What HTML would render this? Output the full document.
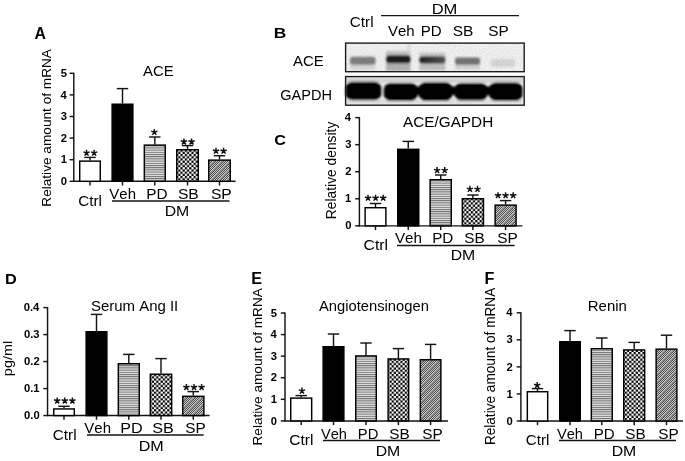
<!DOCTYPE html>
<html><head><meta charset="utf-8"><style>
html,body{margin:0;padding:0;background:#fff;}
svg{display:block;filter:blur(0.3px);}
text{font-family:"Liberation Sans", sans-serif;font-kerning:none;}
</style></head><body>
<svg width="685" height="461" viewBox="0 0 685 461">
<defs>
<pattern id="pd" patternUnits="userSpaceOnUse" width="4" height="2.2"><rect width="4" height="2.2" fill="#e2e2e2"/><rect width="4" height="1" fill="#6e6e6e"/></pattern>
<pattern id="sb" patternUnits="userSpaceOnUse" width="4.4" height="4.4"><rect width="4.4" height="4.4" fill="#fff"/><rect width="2.2" height="2.2" fill="#000"/><rect x="2.2" y="2.2" width="2.2" height="2.2" fill="#000"/></pattern>
<pattern id="sp" patternUnits="userSpaceOnUse" width="8" height="8"><rect x="0" y="0" width="1" height="1" fill="#4a4a4a"/><rect x="1" y="0" width="1" height="1" fill="#cccccc"/><rect x="2" y="0" width="1" height="1" fill="#4a4a4a"/><rect x="3" y="0" width="1" height="1" fill="#cccccc"/><rect x="4" y="0" width="1" height="1" fill="#4a4a4a"/><rect x="5" y="0" width="1" height="1" fill="#cccccc"/><rect x="6" y="0" width="1" height="1" fill="#929292"/><rect x="7" y="0" width="1" height="1" fill="#8e8e8e"/><rect x="0" y="1" width="1" height="1" fill="#cccccc"/><rect x="1" y="1" width="1" height="1" fill="#4a4a4a"/><rect x="2" y="1" width="1" height="1" fill="#cccccc"/><rect x="3" y="1" width="1" height="1" fill="#4a4a4a"/><rect x="4" y="1" width="1" height="1" fill="#cccccc"/><rect x="5" y="1" width="1" height="1" fill="#929292"/><rect x="6" y="1" width="1" height="1" fill="#8e8e8e"/><rect x="7" y="1" width="1" height="1" fill="#4a4a4a"/><rect x="0" y="2" width="1" height="1" fill="#4a4a4a"/><rect x="1" y="2" width="1" height="1" fill="#cccccc"/><rect x="2" y="2" width="1" height="1" fill="#4a4a4a"/><rect x="3" y="2" width="1" height="1" fill="#cccccc"/><rect x="4" y="2" width="1" height="1" fill="#929292"/><rect x="5" y="2" width="1" height="1" fill="#8e8e8e"/><rect x="6" y="2" width="1" height="1" fill="#4a4a4a"/><rect x="7" y="2" width="1" height="1" fill="#cccccc"/><rect x="0" y="3" width="1" height="1" fill="#cccccc"/><rect x="1" y="3" width="1" height="1" fill="#4a4a4a"/><rect x="2" y="3" width="1" height="1" fill="#cccccc"/><rect x="3" y="3" width="1" height="1" fill="#929292"/><rect x="4" y="3" width="1" height="1" fill="#8e8e8e"/><rect x="5" y="3" width="1" height="1" fill="#4a4a4a"/><rect x="6" y="3" width="1" height="1" fill="#cccccc"/><rect x="7" y="3" width="1" height="1" fill="#4a4a4a"/><rect x="0" y="4" width="1" height="1" fill="#4a4a4a"/><rect x="1" y="4" width="1" height="1" fill="#cccccc"/><rect x="2" y="4" width="1" height="1" fill="#929292"/><rect x="3" y="4" width="1" height="1" fill="#8e8e8e"/><rect x="4" y="4" width="1" height="1" fill="#4a4a4a"/><rect x="5" y="4" width="1" height="1" fill="#cccccc"/><rect x="6" y="4" width="1" height="1" fill="#4a4a4a"/><rect x="7" y="4" width="1" height="1" fill="#cccccc"/><rect x="0" y="5" width="1" height="1" fill="#cccccc"/><rect x="1" y="5" width="1" height="1" fill="#929292"/><rect x="2" y="5" width="1" height="1" fill="#8e8e8e"/><rect x="3" y="5" width="1" height="1" fill="#4a4a4a"/><rect x="4" y="5" width="1" height="1" fill="#cccccc"/><rect x="5" y="5" width="1" height="1" fill="#4a4a4a"/><rect x="6" y="5" width="1" height="1" fill="#cccccc"/><rect x="7" y="5" width="1" height="1" fill="#4a4a4a"/><rect x="0" y="6" width="1" height="1" fill="#929292"/><rect x="1" y="6" width="1" height="1" fill="#8e8e8e"/><rect x="2" y="6" width="1" height="1" fill="#4a4a4a"/><rect x="3" y="6" width="1" height="1" fill="#cccccc"/><rect x="4" y="6" width="1" height="1" fill="#4a4a4a"/><rect x="5" y="6" width="1" height="1" fill="#cccccc"/><rect x="6" y="6" width="1" height="1" fill="#4a4a4a"/><rect x="7" y="6" width="1" height="1" fill="#cccccc"/><rect x="0" y="7" width="1" height="1" fill="#8e8e8e"/><rect x="1" y="7" width="1" height="1" fill="#4a4a4a"/><rect x="2" y="7" width="1" height="1" fill="#cccccc"/><rect x="3" y="7" width="1" height="1" fill="#4a4a4a"/><rect x="4" y="7" width="1" height="1" fill="#cccccc"/><rect x="5" y="7" width="1" height="1" fill="#4a4a4a"/><rect x="6" y="7" width="1" height="1" fill="#cccccc"/><rect x="7" y="7" width="1" height="1" fill="#929292"/></pattern>
<linearGradient id="pdg" x1="0" x2="1" y1="0" y2="0"><stop offset="0" stop-color="#222"/><stop offset="1" stop-color="#555"/></linearGradient>
<filter id="noise" x="0" y="0" width="100%" height="100%"><feTurbulence type="fractalNoise" baseFrequency="0.9" numOctaves="1" seed="3"/><feColorMatrix type="matrix" values="0 0 0 0 0  0 0 0 0 0  0 0 0 0 0  1.6 0 0 0 -0.5"/><feComposite in2="SourceGraphic" operator="in"/></filter>
<filter id="bl1" x="-20%" y="-50%" width="140%" height="200%"><feGaussianBlur stdDeviation="1.25"/></filter>
<filter id="bl2" x="-10%" y="-50%" width="120%" height="200%"><feGaussianBlur stdDeviation="0.9"/></filter>
</defs>
<rect width="685" height="461" fill="#fff"/>

<g>
<rect x="345.6" y="43.1" width="178.6" height="28.6" fill="#f4f4f4"/>
<g filter="url(#bl1)">
 <rect x="350" y="63.5" width="25.5" height="6.5" fill="#dcdcdc"/>
 <rect x="350" y="56.8" width="25.5" height="8" rx="2.5" fill="#808080"/>
 <rect x="386" y="51" width="24.5" height="5.5" fill="#c4c4c4"/>
 <rect x="386" y="62" width="24.5" height="9" fill="#b4b4b4"/>
 <rect x="386.2" y="55.2" width="24.2" height="8" rx="2.5" fill="#1c1c1c"/>
 <rect x="407.5" y="43" width="2.2" height="12" fill="#d8d8d8"/>
 <rect x="419.4" y="52.5" width="26" height="5" fill="#cccccc"/>
 <rect x="419.4" y="62.5" width="26" height="8" fill="#c4c4c4"/>
 <rect x="419.4" y="56.3" width="26" height="7.2" rx="2.5" fill="url(#pdg)"/>
 <rect x="455" y="64" width="25" height="5.5" fill="#d6d6d6"/>
 <rect x="455" y="57.5" width="25" height="7.3" rx="2.5" fill="#747474"/>
 <rect x="490.5" y="59" width="24.5" height="8" rx="2.5" fill="#dadada"/>
</g>
<rect x="345.6" y="43.1" width="178.6" height="28.6" fill="#000" filter="url(#noise)" opacity="0.10"/>
<rect x="345.6" y="43.1" width="178.6" height="28.6" fill="none" stroke="#1c1c1c" stroke-width="1.4"/>
<rect x="345.6" y="76.6" width="178.6" height="28.6" fill="#ededed"/>
<g filter="url(#bl2)">
 <rect x="346" y="78.5" width="177" height="4" fill="#d6d6d6"/>
 <rect x="346" y="99.5" width="177" height="4" fill="#e2e2e2"/>
 <rect x="385" y="86.5" width="137" height="8.5" fill="#000"/>
 <rect x="345.5" y="81.8" width="35.8" height="18.4" rx="6.5" fill="#000"/>
 <rect x="383.8" y="83" width="33.8" height="18" rx="6.5" fill="#000"/>
 <rect x="418.8" y="82.3" width="33.5" height="18.6" rx="6.5" fill="#000"/>
 <rect x="454.5" y="83" width="33" height="17.6" rx="6.5" fill="#000"/>
 <rect x="489" y="82.6" width="33.5" height="18.3" rx="6.5" fill="#000"/>
</g>
<rect x="345.6" y="76.6" width="178.6" height="28.6" fill="#000" filter="url(#noise)" opacity="0.08"/>
<rect x="345.6" y="76.6" width="178.6" height="28.6" fill="none" stroke="#1c1c1c" stroke-width="1.4"/>
</g>

<text transform="matrix(0.9875,0,0,1,34.61,39.00)" font-size="16.00" font-weight="bold" fill="#000">A</text>
<text transform="matrix(1.0504,0,0,1,142.97,75.60)" font-size="14.20" fill="#000">ACE</text>
<text transform="matrix(0,-1,0.9608,0,51.00,206.72)" font-size="13.65">Relative amount of mRNA</text>
<line x1="73.80" y1="72.80" x2="73.80" y2="181.90" stroke="#141414" stroke-width="1.45"/>
<line x1="73.20" y1="181.30" x2="235.60" y2="181.30" stroke="#141414" stroke-width="1.45"/>
<line x1="69.60" y1="181.30" x2="73.80" y2="181.30" stroke="#141414" stroke-width="1.45"/>
<text transform="matrix(1.0700,0,0,1,60.81,184.90)" font-size="10.50" font-weight="bold" fill="#000">0</text>
<line x1="69.60" y1="159.70" x2="73.80" y2="159.70" stroke="#141414" stroke-width="1.45"/>
<text transform="matrix(1.0700,0,0,1,60.66,163.30)" font-size="10.50" font-weight="bold" fill="#000">1</text>
<line x1="69.60" y1="138.10" x2="73.80" y2="138.10" stroke="#141414" stroke-width="1.45"/>
<text transform="matrix(1.0700,0,0,1,60.80,141.70)" font-size="10.50" font-weight="bold" fill="#000">2</text>
<line x1="69.60" y1="116.50" x2="73.80" y2="116.50" stroke="#141414" stroke-width="1.45"/>
<text transform="matrix(1.0700,0,0,1,60.76,120.10)" font-size="10.50" font-weight="bold" fill="#000">3</text>
<line x1="69.60" y1="94.90" x2="73.80" y2="94.90" stroke="#141414" stroke-width="1.45"/>
<text transform="matrix(1.0700,0,0,1,60.41,98.50)" font-size="10.50" font-weight="bold" fill="#000">4</text>
<line x1="69.60" y1="73.30" x2="73.80" y2="73.30" stroke="#141414" stroke-width="1.45"/>
<text transform="matrix(1.0700,0,0,1,60.66,76.90)" font-size="10.50" font-weight="bold" fill="#000">5</text>
<line x1="90.00" y1="181.30" x2="90.00" y2="185.50" stroke="#141414" stroke-width="1.45"/>
<line x1="90.00" y1="160.40" x2="90.00" y2="157.40" stroke="#141414" stroke-width="1.45"/>
<line x1="84.30" y1="157.40" x2="95.70" y2="157.40" stroke="#141414" stroke-width="1.45"/>
<rect x="79.72" y="161.12" width="20.55" height="20.18" fill="#fff" stroke="#000" stroke-width="1.45"/>
<line x1="122.50" y1="181.30" x2="122.50" y2="185.50" stroke="#141414" stroke-width="1.45"/>
<line x1="122.50" y1="103.50" x2="122.50" y2="88.60" stroke="#141414" stroke-width="1.45"/>
<line x1="116.80" y1="88.60" x2="128.20" y2="88.60" stroke="#141414" stroke-width="1.45"/>
<rect x="112.12" y="104.22" width="20.75" height="77.08" fill="#000" stroke="#000" stroke-width="1.45"/>
<line x1="154.80" y1="181.30" x2="154.80" y2="185.50" stroke="#141414" stroke-width="1.45"/>
<line x1="154.80" y1="144.40" x2="154.80" y2="137.00" stroke="#141414" stroke-width="1.45"/>
<line x1="149.10" y1="137.00" x2="160.50" y2="137.00" stroke="#141414" stroke-width="1.45"/>
<rect x="144.32" y="145.12" width="20.95" height="36.18" fill="url(#pd)" stroke="#000" stroke-width="1.45"/>
<line x1="187.50" y1="181.30" x2="187.50" y2="185.50" stroke="#141414" stroke-width="1.45"/>
<line x1="187.50" y1="149.00" x2="187.50" y2="145.60" stroke="#141414" stroke-width="1.45"/>
<line x1="181.80" y1="145.60" x2="193.20" y2="145.60" stroke="#141414" stroke-width="1.45"/>
<rect x="176.72" y="149.72" width="21.55" height="31.58" fill="url(#sb)" stroke="#000" stroke-width="1.45"/>
<line x1="219.50" y1="181.30" x2="219.50" y2="185.50" stroke="#141414" stroke-width="1.45"/>
<line x1="219.50" y1="159.40" x2="219.50" y2="155.70" stroke="#141414" stroke-width="1.45"/>
<line x1="213.80" y1="155.70" x2="225.20" y2="155.70" stroke="#141414" stroke-width="1.45"/>
<rect x="208.72" y="160.12" width="21.55" height="21.18" fill="url(#sp)" stroke="#000" stroke-width="1.45"/>
<text transform="matrix(1.0778,0,0,1,78.22,205.60)" font-size="14.20" fill="#000">Ctrl</text>
<text transform="matrix(1.0543,0,0,1,109.33,199.00)" font-size="14.20" fill="#000">Veh</text>
<text transform="matrix(1.0849,0,0,1,146.34,199.00)" font-size="14.20" fill="#000">PD</text>
<text transform="matrix(1.1055,0,0,1,177.89,199.00)" font-size="14.20" fill="#000">SB</text>
<text transform="matrix(1.1055,0,0,1,210.89,199.00)" font-size="14.20" fill="#000">SP</text>
<line x1="112.00" y1="201.00" x2="229.50" y2="201.00" stroke="#141414" stroke-width="1.45"/>
<text transform="matrix(1.1137,0,0,1,164.70,216.00)" font-size="14.20" fill="#000">DM</text>
<path d="M86.55,152.95L86.55,149.65M86.55,152.95L89.69,151.93M86.55,152.95L88.49,155.62M86.55,152.95L84.61,155.62M86.55,152.95L83.41,151.93" stroke="#111" stroke-width="1.45" fill="none"/>
<path d="M94.15,152.95L94.15,149.65M94.15,152.95L97.29,151.93M94.15,152.95L96.09,155.62M94.15,152.95L92.21,155.62M94.15,152.95L91.01,151.93" stroke="#111" stroke-width="1.45" fill="none"/>
<path d="M154.35,132.20L154.35,128.90M154.35,132.20L157.49,131.18M154.35,132.20L156.29,134.87M154.35,132.20L152.41,134.87M154.35,132.20L151.21,131.18" stroke="#111" stroke-width="1.45" fill="none"/>
<path d="M183.95,141.80L183.95,138.50M183.95,141.80L187.09,140.78M183.95,141.80L185.89,144.47M183.95,141.80L182.01,144.47M183.95,141.80L180.81,140.78" stroke="#111" stroke-width="1.45" fill="none"/>
<path d="M191.55,141.80L191.55,138.50M191.55,141.80L194.69,140.78M191.55,141.80L193.49,144.47M191.55,141.80L189.61,144.47M191.55,141.80L188.41,140.78" stroke="#111" stroke-width="1.45" fill="none"/>
<path d="M216.00,151.00L216.00,147.70M216.00,151.00L219.14,149.98M216.00,151.00L217.94,153.67M216.00,151.00L214.06,153.67M216.00,151.00L212.86,149.98" stroke="#111" stroke-width="1.45" fill="none"/>
<path d="M223.60,151.00L223.60,147.70M223.60,151.00L226.74,149.98M223.60,151.00L225.54,153.67M223.60,151.00L221.66,153.67M223.60,151.00L220.46,149.98" stroke="#111" stroke-width="1.45" fill="none"/>
<text transform="matrix(1.1435,0,0,1,273.84,38.40)" font-size="15.20" font-weight="bold" fill="#000">B</text>
<text transform="matrix(1.0778,0,0,1,349.82,27.40)" font-size="14.20" fill="#000">Ctrl</text>
<line x1="381.00" y1="15.60" x2="519.00" y2="15.60" stroke="#141414" stroke-width="1.45"/>
<text transform="matrix(1.1643,0,0,1,431.64,14.00)" font-size="14.20" fill="#000">DM</text>
<text transform="matrix(1.0543,0,0,1,387.93,35.60)" font-size="14.20" fill="#000">Veh</text>
<text transform="matrix(1.0625,0,0,1,420.76,35.60)" font-size="14.20" fill="#000">PD</text>
<text transform="matrix(1.0941,0,0,1,452.69,35.60)" font-size="14.20" fill="#000">SB</text>
<text transform="matrix(1.0827,0,0,1,488.30,35.60)" font-size="14.20" fill="#000">SP</text>
<text transform="matrix(1.0504,0,0,1,292.97,66.00)" font-size="14.20" fill="#000">ACE</text>
<text transform="matrix(1.0283,0,0,1,280.27,100.00)" font-size="14.20" fill="#000">GAPDH</text>
<text transform="matrix(1.0666,0,0,1,274.34,145.00)" font-size="15.20" font-weight="bold" fill="#000">C</text>
<text transform="matrix(1.0794,0,0,1,402.97,127.00)" font-size="14.20" fill="#000">ACE/GAPDH</text>
<text transform="matrix(0,-1,0.9996,0,335.50,219.13)" font-size="13.81">Relative density</text>
<line x1="359.40" y1="117.10" x2="359.40" y2="226.45" stroke="#141414" stroke-width="1.45"/>
<line x1="358.80" y1="225.85" x2="522.40" y2="225.85" stroke="#141414" stroke-width="1.45"/>
<line x1="355.20" y1="225.85" x2="359.40" y2="225.85" stroke="#141414" stroke-width="1.45"/>
<text transform="matrix(1.0700,0,0,1,345.21,229.45)" font-size="10.50" font-weight="bold" fill="#000">0</text>
<line x1="355.20" y1="198.79" x2="359.40" y2="198.79" stroke="#141414" stroke-width="1.45"/>
<text transform="matrix(1.0700,0,0,1,345.06,202.39)" font-size="10.50" font-weight="bold" fill="#000">1</text>
<line x1="355.20" y1="171.72" x2="359.40" y2="171.72" stroke="#141414" stroke-width="1.45"/>
<text transform="matrix(1.0700,0,0,1,345.20,175.32)" font-size="10.50" font-weight="bold" fill="#000">2</text>
<line x1="355.20" y1="144.66" x2="359.40" y2="144.66" stroke="#141414" stroke-width="1.45"/>
<text transform="matrix(1.0700,0,0,1,345.16,148.26)" font-size="10.50" font-weight="bold" fill="#000">3</text>
<line x1="355.20" y1="117.60" x2="359.40" y2="117.60" stroke="#141414" stroke-width="1.45"/>
<text transform="matrix(1.0700,0,0,1,344.81,121.20)" font-size="10.50" font-weight="bold" fill="#000">4</text>
<line x1="375.50" y1="225.85" x2="375.50" y2="230.05" stroke="#141414" stroke-width="1.45"/>
<line x1="375.50" y1="207.00" x2="375.50" y2="203.50" stroke="#141414" stroke-width="1.45"/>
<line x1="369.80" y1="203.50" x2="381.20" y2="203.50" stroke="#141414" stroke-width="1.45"/>
<rect x="365.12" y="207.72" width="20.75" height="18.12" fill="#fff" stroke="#000" stroke-width="1.45"/>
<line x1="408.25" y1="225.85" x2="408.25" y2="230.05" stroke="#141414" stroke-width="1.45"/>
<line x1="408.25" y1="148.60" x2="408.25" y2="141.40" stroke="#141414" stroke-width="1.45"/>
<line x1="402.55" y1="141.40" x2="413.95" y2="141.40" stroke="#141414" stroke-width="1.45"/>
<rect x="397.73" y="149.32" width="21.05" height="76.53" fill="#000" stroke="#000" stroke-width="1.45"/>
<line x1="440.70" y1="225.85" x2="440.70" y2="230.05" stroke="#141414" stroke-width="1.45"/>
<line x1="440.70" y1="179.00" x2="440.70" y2="175.00" stroke="#141414" stroke-width="1.45"/>
<line x1="435.00" y1="175.00" x2="446.40" y2="175.00" stroke="#141414" stroke-width="1.45"/>
<rect x="430.12" y="179.72" width="21.15" height="46.12" fill="url(#pd)" stroke="#000" stroke-width="1.45"/>
<line x1="472.90" y1="225.85" x2="472.90" y2="230.05" stroke="#141414" stroke-width="1.45"/>
<line x1="472.90" y1="198.00" x2="472.90" y2="195.00" stroke="#141414" stroke-width="1.45"/>
<line x1="467.20" y1="195.00" x2="478.60" y2="195.00" stroke="#141414" stroke-width="1.45"/>
<rect x="462.33" y="198.72" width="21.15" height="27.12" fill="url(#sb)" stroke="#000" stroke-width="1.45"/>
<line x1="505.60" y1="225.85" x2="505.60" y2="230.05" stroke="#141414" stroke-width="1.45"/>
<line x1="505.60" y1="204.40" x2="505.60" y2="200.60" stroke="#141414" stroke-width="1.45"/>
<line x1="499.90" y1="200.60" x2="511.30" y2="200.60" stroke="#141414" stroke-width="1.45"/>
<rect x="495.12" y="205.12" width="20.95" height="20.72" fill="url(#sp)" stroke="#000" stroke-width="1.45"/>
<text transform="matrix(1.1072,0,0,1,363.60,250.00)" font-size="14.20" fill="#000">Ctrl</text>
<text transform="matrix(1.0708,0,0,1,394.93,243.00)" font-size="14.20" fill="#000">Veh</text>
<text transform="matrix(1.0737,0,0,1,432.15,243.00)" font-size="14.20" fill="#000">PD</text>
<text transform="matrix(1.0827,0,0,1,464.30,243.00)" font-size="14.20" fill="#000">SB</text>
<text transform="matrix(1.0827,0,0,1,497.30,243.00)" font-size="14.20" fill="#000">SP</text>
<line x1="397.00" y1="245.40" x2="514.60" y2="245.40" stroke="#141414" stroke-width="1.45"/>
<text transform="matrix(1.1137,0,0,1,450.70,260.00)" font-size="14.20" fill="#000">DM</text>
<path d="M368.00,198.00L368.00,194.70M368.00,198.00L371.14,196.98M368.00,198.00L369.94,200.67M368.00,198.00L366.06,200.67M368.00,198.00L364.86,196.98" stroke="#111" stroke-width="1.45" fill="none"/>
<path d="M375.60,198.00L375.60,194.70M375.60,198.00L378.74,196.98M375.60,198.00L377.54,200.67M375.60,198.00L373.66,200.67M375.60,198.00L372.46,196.98" stroke="#111" stroke-width="1.45" fill="none"/>
<path d="M383.20,198.00L383.20,194.70M383.20,198.00L386.34,196.98M383.20,198.00L385.14,200.67M383.20,198.00L381.26,200.67M383.20,198.00L380.06,196.98" stroke="#111" stroke-width="1.45" fill="none"/>
<path d="M437.10,170.40L437.10,167.10M437.10,170.40L440.24,169.38M437.10,170.40L439.04,173.07M437.10,170.40L435.16,173.07M437.10,170.40L433.96,169.38" stroke="#111" stroke-width="1.45" fill="none"/>
<path d="M444.70,170.40L444.70,167.10M444.70,170.40L447.84,169.38M444.70,170.40L446.64,173.07M444.70,170.40L442.76,173.07M444.70,170.40L441.56,169.38" stroke="#111" stroke-width="1.45" fill="none"/>
<path d="M469.90,189.10L469.90,185.80M469.90,189.10L473.04,188.08M469.90,189.10L471.84,191.77M469.90,189.10L467.96,191.77M469.90,189.10L466.76,188.08" stroke="#111" stroke-width="1.45" fill="none"/>
<path d="M477.50,189.10L477.50,185.80M477.50,189.10L480.64,188.08M477.50,189.10L479.44,191.77M477.50,189.10L475.56,191.77M477.50,189.10L474.36,188.08" stroke="#111" stroke-width="1.45" fill="none"/>
<path d="M498.00,195.50L498.00,192.20M498.00,195.50L501.14,194.48M498.00,195.50L499.94,198.17M498.00,195.50L496.06,198.17M498.00,195.50L494.86,194.48" stroke="#111" stroke-width="1.45" fill="none"/>
<path d="M505.60,195.50L505.60,192.20M505.60,195.50L508.74,194.48M505.60,195.50L507.54,198.17M505.60,195.50L503.66,198.17M505.60,195.50L502.46,194.48" stroke="#111" stroke-width="1.45" fill="none"/>
<path d="M513.20,195.50L513.20,192.20M513.20,195.50L516.34,194.48M513.20,195.50L515.14,198.17M513.20,195.50L511.26,198.17M513.20,195.50L510.06,194.48" stroke="#111" stroke-width="1.45" fill="none"/>
<text transform="matrix(1.0727,0,0,1,4.91,284.00)" font-size="15.20" font-weight="bold" fill="#000">D</text>
<text transform="matrix(1.0554,0,0,1,90.92,310.50)" font-size="14.20" fill="#000">Serum Ang II</text>
<text transform="matrix(0,-1,0.8796,0,11.60,376.13)" font-size="14.43">pg/ml</text>
<line x1="47.55" y1="307.10" x2="47.55" y2="416.15" stroke="#141414" stroke-width="1.45"/>
<line x1="46.95" y1="415.55" x2="209.60" y2="415.55" stroke="#141414" stroke-width="1.45"/>
<line x1="43.35" y1="415.55" x2="47.55" y2="415.55" stroke="#141414" stroke-width="1.45"/>
<text transform="matrix(1.0700,0,0,1,24.04,419.15)" font-size="10.50" font-weight="bold" fill="#000">0.0</text>
<line x1="43.35" y1="388.56" x2="47.55" y2="388.56" stroke="#141414" stroke-width="1.45"/>
<text transform="matrix(1.0700,0,0,1,23.89,392.16)" font-size="10.50" font-weight="bold" fill="#000">0.1</text>
<line x1="43.35" y1="361.58" x2="47.55" y2="361.58" stroke="#141414" stroke-width="1.45"/>
<text transform="matrix(1.0700,0,0,1,24.03,365.18)" font-size="10.50" font-weight="bold" fill="#000">0.2</text>
<line x1="43.35" y1="334.59" x2="47.55" y2="334.59" stroke="#141414" stroke-width="1.45"/>
<text transform="matrix(1.0700,0,0,1,23.99,338.19)" font-size="10.50" font-weight="bold" fill="#000">0.3</text>
<line x1="43.35" y1="307.60" x2="47.55" y2="307.60" stroke="#141414" stroke-width="1.45"/>
<text transform="matrix(1.0700,0,0,1,23.64,311.20)" font-size="10.50" font-weight="bold" fill="#000">0.4</text>
<line x1="64.00" y1="415.55" x2="64.00" y2="419.75" stroke="#141414" stroke-width="1.45"/>
<line x1="64.00" y1="408.20" x2="64.00" y2="406.30" stroke="#141414" stroke-width="1.45"/>
<line x1="58.30" y1="406.30" x2="69.70" y2="406.30" stroke="#141414" stroke-width="1.45"/>
<rect x="53.73" y="408.93" width="20.55" height="6.63" fill="#fff" stroke="#000" stroke-width="1.45"/>
<line x1="96.50" y1="415.55" x2="96.50" y2="419.75" stroke="#141414" stroke-width="1.45"/>
<line x1="96.50" y1="331.00" x2="96.50" y2="314.40" stroke="#141414" stroke-width="1.45"/>
<line x1="90.80" y1="314.40" x2="102.20" y2="314.40" stroke="#141414" stroke-width="1.45"/>
<rect x="86.12" y="331.73" width="20.75" height="83.83" fill="#000" stroke="#000" stroke-width="1.45"/>
<line x1="128.80" y1="415.55" x2="128.80" y2="419.75" stroke="#141414" stroke-width="1.45"/>
<line x1="128.80" y1="363.00" x2="128.80" y2="354.40" stroke="#141414" stroke-width="1.45"/>
<line x1="123.10" y1="354.40" x2="134.50" y2="354.40" stroke="#141414" stroke-width="1.45"/>
<rect x="118.32" y="363.73" width="20.95" height="51.83" fill="url(#pd)" stroke="#000" stroke-width="1.45"/>
<line x1="161.00" y1="415.55" x2="161.00" y2="419.75" stroke="#141414" stroke-width="1.45"/>
<line x1="161.00" y1="373.50" x2="161.00" y2="358.60" stroke="#141414" stroke-width="1.45"/>
<line x1="155.30" y1="358.60" x2="166.70" y2="358.60" stroke="#141414" stroke-width="1.45"/>
<rect x="150.32" y="374.23" width="21.35" height="41.33" fill="url(#sb)" stroke="#000" stroke-width="1.45"/>
<line x1="193.30" y1="415.55" x2="193.30" y2="419.75" stroke="#141414" stroke-width="1.45"/>
<line x1="193.30" y1="395.60" x2="193.30" y2="391.60" stroke="#141414" stroke-width="1.45"/>
<line x1="187.60" y1="391.60" x2="199.00" y2="391.60" stroke="#141414" stroke-width="1.45"/>
<rect x="182.72" y="396.33" width="21.15" height="19.22" fill="url(#sp)" stroke="#000" stroke-width="1.45"/>
<text transform="matrix(1.0778,0,0,1,52.82,440.40)" font-size="14.20" fill="#000">Ctrl</text>
<text transform="matrix(1.0543,0,0,1,84.33,433.00)" font-size="14.20" fill="#000">Veh</text>
<text transform="matrix(1.1408,0,0,1,120.27,433.00)" font-size="14.20" fill="#000">PD</text>
<text transform="matrix(1.1397,0,0,1,152.27,433.00)" font-size="14.20" fill="#000">SB</text>
<text transform="matrix(1.0827,0,0,1,185.30,433.00)" font-size="14.20" fill="#000">SP</text>
<line x1="87.00" y1="435.00" x2="203.60" y2="435.00" stroke="#141414" stroke-width="1.45"/>
<text transform="matrix(1.1340,0,0,1,138.68,450.60)" font-size="14.20" fill="#000">DM</text>
<path d="M57.20,400.80L57.20,397.50M57.20,400.80L60.34,399.78M57.20,400.80L59.14,403.47M57.20,400.80L55.26,403.47M57.20,400.80L54.06,399.78" stroke="#111" stroke-width="1.45" fill="none"/>
<path d="M64.80,400.80L64.80,397.50M64.80,400.80L67.94,399.78M64.80,400.80L66.74,403.47M64.80,400.80L62.86,403.47M64.80,400.80L61.66,399.78" stroke="#111" stroke-width="1.45" fill="none"/>
<path d="M72.40,400.80L72.40,397.50M72.40,400.80L75.54,399.78M72.40,400.80L74.34,403.47M72.40,400.80L70.46,403.47M72.40,400.80L69.26,399.78" stroke="#111" stroke-width="1.45" fill="none"/>
<path d="M186.40,387.30L186.40,384.00M186.40,387.30L189.54,386.28M186.40,387.30L188.34,389.97M186.40,387.30L184.46,389.97M186.40,387.30L183.26,386.28" stroke="#111" stroke-width="1.45" fill="none"/>
<path d="M194.00,387.30L194.00,384.00M194.00,387.30L197.14,386.28M194.00,387.30L195.94,389.97M194.00,387.30L192.06,389.97M194.00,387.30L190.86,386.28" stroke="#111" stroke-width="1.45" fill="none"/>
<path d="M201.60,387.30L201.60,384.00M201.60,387.30L204.74,386.28M201.60,387.30L203.54,389.97M201.60,387.30L199.66,389.97M201.60,387.30L198.46,386.28" stroke="#111" stroke-width="1.45" fill="none"/>
<text transform="matrix(1.0138,0,0,1,251.31,283.60)" font-size="16.00" font-weight="bold" fill="#000">E</text>
<text transform="matrix(1.0396,0,0,1,318.97,311.00)" font-size="14.20" fill="#000">Angiotensinogen</text>
<text transform="matrix(0,-1,0.9924,0,261.60,445.52)" font-size="13.63">Relative amount of mRNA</text>
<line x1="285.00" y1="312.50" x2="285.00" y2="421.50" stroke="#141414" stroke-width="1.45"/>
<line x1="284.40" y1="420.90" x2="448.00" y2="420.90" stroke="#141414" stroke-width="1.45"/>
<line x1="280.80" y1="420.90" x2="285.00" y2="420.90" stroke="#141414" stroke-width="1.45"/>
<text transform="matrix(1.0700,0,0,1,270.81,424.50)" font-size="10.50" font-weight="bold" fill="#000">0</text>
<line x1="280.80" y1="399.32" x2="285.00" y2="399.32" stroke="#141414" stroke-width="1.45"/>
<text transform="matrix(1.0700,0,0,1,270.66,402.92)" font-size="10.50" font-weight="bold" fill="#000">1</text>
<line x1="280.80" y1="377.74" x2="285.00" y2="377.74" stroke="#141414" stroke-width="1.45"/>
<text transform="matrix(1.0700,0,0,1,270.80,381.34)" font-size="10.50" font-weight="bold" fill="#000">2</text>
<line x1="280.80" y1="356.16" x2="285.00" y2="356.16" stroke="#141414" stroke-width="1.45"/>
<text transform="matrix(1.0700,0,0,1,270.76,359.76)" font-size="10.50" font-weight="bold" fill="#000">3</text>
<line x1="280.80" y1="334.58" x2="285.00" y2="334.58" stroke="#141414" stroke-width="1.45"/>
<text transform="matrix(1.0700,0,0,1,270.41,338.18)" font-size="10.50" font-weight="bold" fill="#000">4</text>
<line x1="280.80" y1="313.00" x2="285.00" y2="313.00" stroke="#141414" stroke-width="1.45"/>
<text transform="matrix(1.0700,0,0,1,270.66,316.60)" font-size="10.50" font-weight="bold" fill="#000">5</text>
<line x1="301.20" y1="420.90" x2="301.20" y2="425.10" stroke="#141414" stroke-width="1.45"/>
<line x1="301.20" y1="397.40" x2="301.20" y2="395.60" stroke="#141414" stroke-width="1.45"/>
<line x1="295.50" y1="395.60" x2="306.90" y2="395.60" stroke="#141414" stroke-width="1.45"/>
<rect x="290.73" y="398.12" width="20.95" height="22.77" fill="#fff" stroke="#000" stroke-width="1.45"/>
<line x1="333.50" y1="420.90" x2="333.50" y2="425.10" stroke="#141414" stroke-width="1.45"/>
<line x1="333.50" y1="346.00" x2="333.50" y2="334.00" stroke="#141414" stroke-width="1.45"/>
<line x1="327.80" y1="334.00" x2="339.20" y2="334.00" stroke="#141414" stroke-width="1.45"/>
<rect x="323.12" y="346.73" width="20.75" height="74.17" fill="#000" stroke="#000" stroke-width="1.45"/>
<line x1="366.00" y1="420.90" x2="366.00" y2="425.10" stroke="#141414" stroke-width="1.45"/>
<line x1="366.00" y1="355.20" x2="366.00" y2="343.00" stroke="#141414" stroke-width="1.45"/>
<line x1="360.30" y1="343.00" x2="371.70" y2="343.00" stroke="#141414" stroke-width="1.45"/>
<rect x="355.73" y="355.93" width="20.55" height="64.97" fill="url(#pd)" stroke="#000" stroke-width="1.45"/>
<line x1="398.40" y1="420.90" x2="398.40" y2="425.10" stroke="#141414" stroke-width="1.45"/>
<line x1="398.40" y1="358.20" x2="398.40" y2="348.60" stroke="#141414" stroke-width="1.45"/>
<line x1="392.70" y1="348.60" x2="404.10" y2="348.60" stroke="#141414" stroke-width="1.45"/>
<rect x="388.12" y="358.93" width="20.55" height="61.97" fill="url(#sb)" stroke="#000" stroke-width="1.45"/>
<line x1="430.60" y1="420.90" x2="430.60" y2="425.10" stroke="#141414" stroke-width="1.45"/>
<line x1="430.60" y1="359.00" x2="430.60" y2="344.40" stroke="#141414" stroke-width="1.45"/>
<line x1="424.90" y1="344.40" x2="436.30" y2="344.40" stroke="#141414" stroke-width="1.45"/>
<rect x="420.33" y="359.73" width="20.55" height="61.17" fill="url(#sp)" stroke="#000" stroke-width="1.45"/>
<text transform="matrix(1.0974,0,0,1,289.21,445.40)" font-size="14.20" fill="#000">Ctrl</text>
<text transform="matrix(1.0296,0,0,1,320.94,438.60)" font-size="14.20" fill="#000">Veh</text>
<text transform="matrix(1.0402,0,0,1,357.79,438.60)" font-size="14.20" fill="#000">PD</text>
<text transform="matrix(1.0827,0,0,1,389.30,438.60)" font-size="14.20" fill="#000">SB</text>
<text transform="matrix(1.0827,0,0,1,422.30,438.60)" font-size="14.20" fill="#000">SP</text>
<line x1="323.00" y1="440.40" x2="440.00" y2="440.40" stroke="#141414" stroke-width="1.45"/>
<text transform="matrix(1.1137,0,0,1,375.70,456.00)" font-size="14.20" fill="#000">DM</text>
<path d="M302.00,390.90L302.00,387.60M302.00,390.90L305.14,389.88M302.00,390.90L303.94,393.57M302.00,390.90L300.06,393.57M302.00,390.90L298.86,389.88" stroke="#111" stroke-width="1.45" fill="none"/>
<text transform="matrix(1.0102,0,0,1,484.52,283.60)" font-size="16.00" font-weight="bold" fill="#000">F</text>
<text transform="matrix(1.0567,0,0,1,587.77,310.60)" font-size="14.20" fill="#000">Renin</text>
<text transform="matrix(0,-1,1.0228,0,495.30,445.12)" font-size="13.63">Relative amount of mRNA</text>
<line x1="520.90" y1="312.30" x2="520.90" y2="421.60" stroke="#141414" stroke-width="1.45"/>
<line x1="520.30" y1="421.00" x2="683.00" y2="421.00" stroke="#141414" stroke-width="1.45"/>
<line x1="516.70" y1="421.00" x2="520.90" y2="421.00" stroke="#141414" stroke-width="1.45"/>
<text transform="matrix(1.0700,0,0,1,506.61,424.60)" font-size="10.50" font-weight="bold" fill="#000">0</text>
<line x1="516.70" y1="393.95" x2="520.90" y2="393.95" stroke="#141414" stroke-width="1.45"/>
<text transform="matrix(1.0700,0,0,1,506.46,397.55)" font-size="10.50" font-weight="bold" fill="#000">1</text>
<line x1="516.70" y1="366.90" x2="520.90" y2="366.90" stroke="#141414" stroke-width="1.45"/>
<text transform="matrix(1.0700,0,0,1,506.60,370.50)" font-size="10.50" font-weight="bold" fill="#000">2</text>
<line x1="516.70" y1="339.85" x2="520.90" y2="339.85" stroke="#141414" stroke-width="1.45"/>
<text transform="matrix(1.0700,0,0,1,506.56,343.45)" font-size="10.50" font-weight="bold" fill="#000">3</text>
<line x1="516.70" y1="312.80" x2="520.90" y2="312.80" stroke="#141414" stroke-width="1.45"/>
<text transform="matrix(1.0700,0,0,1,506.21,316.40)" font-size="10.50" font-weight="bold" fill="#000">4</text>
<line x1="537.50" y1="421.00" x2="537.50" y2="425.20" stroke="#141414" stroke-width="1.45"/>
<line x1="537.50" y1="391.00" x2="537.50" y2="388.60" stroke="#141414" stroke-width="1.45"/>
<line x1="531.80" y1="388.60" x2="543.20" y2="388.60" stroke="#141414" stroke-width="1.45"/>
<rect x="527.33" y="391.73" width="20.35" height="29.27" fill="#fff" stroke="#000" stroke-width="1.45"/>
<line x1="570.00" y1="421.00" x2="570.00" y2="425.20" stroke="#141414" stroke-width="1.45"/>
<line x1="570.00" y1="341.00" x2="570.00" y2="330.60" stroke="#141414" stroke-width="1.45"/>
<line x1="564.30" y1="330.60" x2="575.70" y2="330.60" stroke="#141414" stroke-width="1.45"/>
<rect x="559.73" y="341.73" width="20.55" height="79.28" fill="#000" stroke="#000" stroke-width="1.45"/>
<line x1="601.80" y1="421.00" x2="601.80" y2="425.20" stroke="#141414" stroke-width="1.45"/>
<line x1="601.80" y1="348.00" x2="601.80" y2="338.00" stroke="#141414" stroke-width="1.45"/>
<line x1="596.10" y1="338.00" x2="607.50" y2="338.00" stroke="#141414" stroke-width="1.45"/>
<rect x="591.33" y="348.73" width="20.95" height="72.28" fill="url(#pd)" stroke="#000" stroke-width="1.45"/>
<line x1="634.20" y1="421.00" x2="634.20" y2="425.20" stroke="#141414" stroke-width="1.45"/>
<line x1="634.20" y1="349.20" x2="634.20" y2="342.40" stroke="#141414" stroke-width="1.45"/>
<line x1="628.50" y1="342.40" x2="639.90" y2="342.40" stroke="#141414" stroke-width="1.45"/>
<rect x="623.73" y="349.93" width="20.95" height="71.08" fill="url(#sb)" stroke="#000" stroke-width="1.45"/>
<line x1="666.50" y1="421.00" x2="666.50" y2="425.20" stroke="#141414" stroke-width="1.45"/>
<line x1="666.50" y1="348.40" x2="666.50" y2="335.20" stroke="#141414" stroke-width="1.45"/>
<line x1="660.80" y1="335.20" x2="672.20" y2="335.20" stroke="#141414" stroke-width="1.45"/>
<rect x="656.12" y="349.12" width="20.75" height="71.88" fill="url(#sp)" stroke="#000" stroke-width="1.45"/>
<text transform="matrix(1.0680,0,0,1,525.83,445.40)" font-size="14.20" fill="#000">Ctrl</text>
<text transform="matrix(1.0296,0,0,1,556.94,438.60)" font-size="14.20" fill="#000">Veh</text>
<text transform="matrix(1.0625,0,0,1,593.76,438.60)" font-size="14.20" fill="#000">PD</text>
<text transform="matrix(1.0827,0,0,1,625.30,438.60)" font-size="14.20" fill="#000">SB</text>
<text transform="matrix(1.0827,0,0,1,658.30,438.60)" font-size="14.20" fill="#000">SP</text>
<line x1="559.00" y1="440.40" x2="676.00" y2="440.40" stroke="#141414" stroke-width="1.45"/>
<text transform="matrix(1.1137,0,0,1,611.70,456.00)" font-size="14.20" fill="#000">DM</text>
<path d="M537.20,385.30L537.20,382.00M537.20,385.30L540.34,384.28M537.20,385.30L539.14,387.97M537.20,385.30L535.26,387.97M537.20,385.30L534.06,384.28" stroke="#111" stroke-width="1.45" fill="none"/>
</svg>
</body></html>
